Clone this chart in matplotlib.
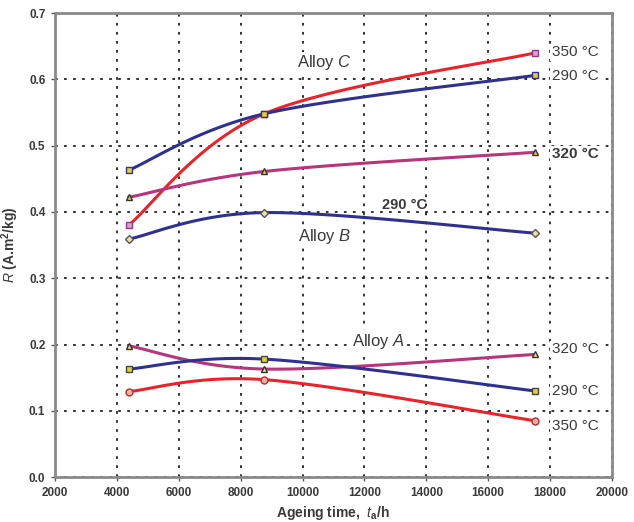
import numpy as np
import matplotlib.pyplot as plt

plt.rcParams['font.family'] = ['Liberation Sans', 'DejaVu Sans']
plt.rcParams['mathtext.fontset'] = 'custom'
plt.rcParams['mathtext.rm'] = 'Liberation Sans'
plt.rcParams['mathtext.it'] = 'Liberation Sans:italic'
plt.rcParams['mathtext.bf'] = 'Liberation Sans:bold'
plt.rcParams['mathtext.bfit'] = 'Liberation Sans:bold:italic'

# ageing times (h)
hours = [4380, 8760, 17520]

# Alloy C
c_350 = [0.380, 0.548, 0.640]
c_290 = [0.463, 0.548, 0.606]
c_320 = [0.422, 0.461, 0.490]
# Alloy B
b_290 = [0.359, 0.399, 0.368]
# Alloy A
a_320 = [0.198, 0.163, 0.185]
a_290 = [0.163, 0.178, 0.130]
a_350 = [0.129, 0.147, 0.085]

BLUE = '#2e3192'
RED = '#ed2229'
MAG = '#b8347c'
TXT = '#3a3a3a'


def smooth(xs, ys, n=60):
    # Catmull-Rom style smoothing like a spreadsheet "smoothed line"
    p = np.column_stack([xs, ys]).astype(float)
    sx = 2000.0
    sy = 0.1
    p[:, 0] /= sx
    p[:, 1] /= sy
    pts = np.vstack([p[0], p, p[-1]])
    out = []
    for i in range(1, len(pts) - 2):
        p0, p1, p2, p3 = pts[i - 1], pts[i], pts[i + 1], pts[i + 2]
        c1 = p1 + (p2 - p0) / 6.0
        c2 = p2 - (p3 - p1) / 6.0
        t = np.linspace(0, 1, n)[:, None]
        seg = ((1 - t) ** 3) * p1 + 3 * ((1 - t) ** 2) * t * c1 + 3 * (1 - t) * t ** 2 * c2 + t ** 3 * p2
        out.append(seg)
    out = np.vstack(out)
    return out[:, 0] * sx, out[:, 1] * sy


fig = plt.figure(figsize=(6.34, 5.22), dpi=100)
ax = fig.add_axes([0.087, 0.086, 0.878, 0.889])

series = [
    (c_350, RED, 's', '#d9a0c8', '#8e3a8a'),
    (c_290, BLUE, 's', '#e8d020', BLUE),
    (c_320, MAG, '^', '#e8d020', '#333333'),
    (b_290, BLUE, 'D', '#f0e0a0', '#555555'),
    (a_320, MAG, '^', '#f0e080', '#333333'),
    (a_290, BLUE, 's', '#e8d020', '#444444'),
    (a_350, RED, 'o', '#f0b0a0', '#b03030'),
]
for ys, col, mk, mfc, mec in series:
    sx, sy = smooth(hours, ys)
    ax.plot(sx, sy, color=col, lw=2.2, zorder=3)
    ax.plot(hours, ys, ls='none', marker=mk, ms=5 if mk != 'D' else 4,
            mfc=mfc, mec=mec, mew=1, zorder=4)

ax.set_xlim(2000, 20000)
ax.set_ylim(0, 0.7)
ax.set_xticks(np.arange(2000, 20001, 2000))
ax.set_yticks(np.arange(0, 0.71, 0.1))
ax.set_yticklabels([f'{v:.1f}' for v in np.arange(0, 0.71, 0.1)])
ax.grid(True, color='#222222', ls=(0, (1.5, 3.5)), lw=1.3)
ax.set_axisbelow(True)
for sp in ax.spines.values():
    sp.set_color('#8a8a8a')
    sp.set_linewidth(2)
ax.tick_params(length=3, width=1, color='#555555', labelsize=8.5, labelcolor=TXT, pad=4)
for lab in ax.get_xticklabels() + ax.get_yticklabels():
    lab.set_fontweight('bold')

ax.set_xlabel(r'Ageing time,  $\mathbf{\mathit{t}}_\mathbf{a}$/h', fontsize=10, fontweight='bold', color=TXT)
ax.set_ylabel(r'$\mathbf{\mathit{R}}$ (A.m$^\mathbf{2}$/kg)', fontsize=10, fontweight='bold', color=TXT)
ax.xaxis.set_label_coords(0.5, -0.057)
ax.yaxis.set_label_coords(-0.062, 0.5)

bb = dict(facecolor='white', edgecolor='none', pad=1)
ax.text(10700, 0.625, 'Alloy $\\mathit{C}$', fontsize=12, color=TXT, ha='center', va='center', bbox=bb)
ax.text(10700, 0.363, 'Alloy $\\mathit{B}$', fontsize=12, color=TXT, ha='center', va='center', bbox=bb)
ax.text(12450, 0.205, 'Alloy $\\mathit{A}$', fontsize=12, color=TXT, ha='center', va='center', bbox=bb)
ax.text(13300, 0.411, '290 °C', fontsize=10.5, fontweight='bold', color=TXT, ha='center', va='center')

right = [(0.641, '350 °C', 'normal'), (0.605, '290 °C', 'normal'), (0.487, '320 °C', 'bold'),
         (0.193, '320 °C', 'normal'), (0.130, '290 °C', 'normal'), (0.077, '350 °C', 'normal')]
for y, t, w in right:
    ax.text(18050, y, t, fontsize=11, fontweight=w, color=TXT, ha='left', va='center', bbox=bb, zorder=5)

fig.savefig('out.png', dpi=100)
